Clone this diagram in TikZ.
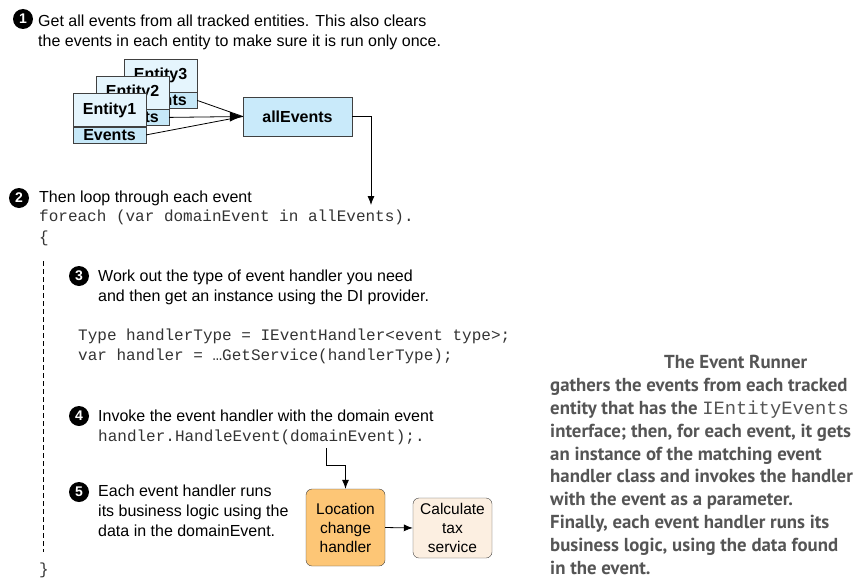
\documentclass[tikz,border=0pt]{standalone}
\usepackage{fontspec}
\setmainfont{Liberation Sans}
\setmonofont{Liberation Mono}
\newfontfamily\notefont{PT Sans}
\usetikzlibrary{arrows.meta}
\definecolor{entlight}{HTML}{E5F5FD}
\definecolor{entblue}{HTML}{C6E8F8}
\definecolor{allblue}{HTML}{C9EAFA}
\definecolor{locorange}{HTML}{FDC676}
\definecolor{calccream}{HTML}{FCEFE1}
\definecolor{boxline}{HTML}{404040}
\definecolor{notegray}{HTML}{555555}
\definecolor{codegray}{HTML}{333333}
\begin{document}
\begin{tikzpicture}[x=1pt,y=1pt]
\tikzstyle{every node}+=[inner sep=0pt]
\tikzstyle{num}=[circle,fill=black,minimum size=20pt,text=white,font=\fontsize{14}{14}\selectfont\bfseries]
% multi-line texts are placed at the baseline of their last line
\tikzstyle{note}=[anchor=base west,align=left,font=\fontsize{16}{20}\selectfont]
\tikzstyle{code}=[anchor=base west,align=left,text=codegray,font=\ttfamily\fontsize{16}{20}\selectfont]
\tikzstyle{enttop}=[rectangle,draw=boxline,fill=entlight,minimum width=73pt,minimum height=33pt,font=\fontsize{16}{16}\selectfont\bfseries]
\tikzstyle{entbot}=[rectangle,draw=boxline,fill=entblue,minimum width=73pt,minimum height=16pt,anchor=north,font=\fontsize{16}{16}\selectfont\bfseries]
\tikzstyle{handler}=[rectangle,rounded corners=6pt,draw=boxline,minimum width=79pt,align=center,font=\fontsize{15.5}{19}\selectfont]
\tikzstyle{link}=[line width=0.8pt,-{Latex[length=9pt,width=7pt]}]
\useasboundingbox (0,0) rectangle (861,-586);
% step 1
\node[num] (n1) at (23,-19) {1};
\node[note] (t1) at (38,-46) {Get all events from all tracked entities. This also clears\\the events in each entity to make sure it is run only once.};
\node[enttop] (e3) at (160.5,-75.5) {Entity3};
\node[entbot] (e3ev) at (e3.south) {Events};
\node[enttop] (e2) at (132.5,-92.5) {Entity2};
\node[entbot] (e2ev) at (e2.south) {Events};
\node[enttop] (e1) at (109.5,-110) {Entity1};
\node[entbot] (e1ev) at (e1.south) {Events};
\node[rectangle,draw=boxline,fill=allblue,minimum width=109pt,minimum height=39pt,font=\fontsize{16}{16}\selectfont\bfseries] (all) at (297.5,-116.5) {allEvents};
\draw[line width=0.8pt] (e3ev.east) -- (all.west);
\draw[line width=0.8pt] (e1ev.east) -- (all.west);
\draw[line width=0.8pt,-{Latex[length=13pt,width=10pt]}] (e2ev.east) -- (all.west);
% step 2
\coordinate (loopin) at (371,-205);
\draw[link] (all.east) -| (loopin);
\node[num] (n2) at (19,-198) {2};
\node[note] (t2) at (39,-202) {Then loop through each event};
\node[code] (c2) at (39,-221) {foreach (var domainEvent in allEvents).};
\node[code] (open) at (39,-242) {\{};
\draw[line width=0.8pt,dash pattern=on 5pt off 3pt] (43,-261) -- (43,-552);
\node[code] (close) at (39,-574) {\}};
% step 3
\node[num] (n3) at (79,-276) {3};
\node[note] (t3) at (98,-301) {Work out the type of event handler you need\\and then get an instance using the DI provider.};
\node[code] (c3) at (78,-360) {Type handlerType = IEventHandler<event type>;\\var handler = …GetService(handlerType);};
% step 4
\node[num] (n4) at (79,-416) {4};
\node[note] (t4) at (98,-421) {Invoke the event handler with the domain event};
\node[code] (c4) at (98,-441) {handler.HandleEvent(domainEvent);.};
% step 5
\node[num] (n5) at (79,-492) {5};
\node[note] (t5) at (98,-536) {Each event handler runs\\its business logic using the\\data in the domainEvent.};
\node[handler,fill=locorange,minimum height=77pt] (loc) at (345.5,-527.5) {Location\\change\\handler};
\node[handler,fill=calccream,minimum height=60pt] (calc) at (452.5,-528) {Calculate\\tax\\service};
\coordinate (hcall) at (326,-448);
\draw[link] (hcall) -- ++(0,-17) -| (loc.north);
\draw[link] (loc.east) -- (calc.west);
% annotation
\node[anchor=base west,align=left,text=notegray,font=\notefont\bfseries\fontsize{18.8}{22.8}\selectfont] (runner) at (550,-574) {\hspace*{114pt}The Event Runner\\gathers the events from each tracked\\entity that has the {\ttfamily\mdseries IEntityEvents}\\interface; then, for each event, it gets\\an instance of the matching event\\handler class and invokes the handler\\with the event as a parameter.\\Finally, each event handler runs its\\business logic, using the data found\\in the event.};
\end{tikzpicture}
\end{document}
